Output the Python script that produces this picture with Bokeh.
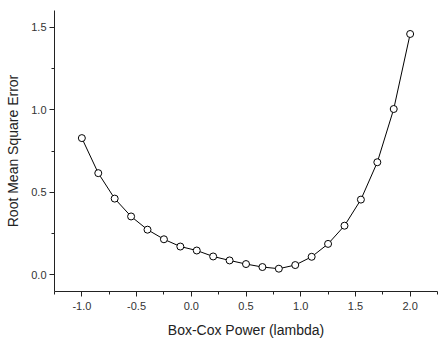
from bokeh.plotting import figure
from bokeh.models import SingleIntervalTicker, ColumnDataSource, Range1d, NumeralTickFormatter
from bokeh.embed import file_html
from bokeh.resources import INLINE

lam = [-1.0, -0.85, -0.7, -0.55, -0.4, -0.25, -0.1, 0.05, 0.2, 0.35, 0.5,
       0.65, 0.8, 0.95, 1.1, 1.25, 1.4, 1.55, 1.7, 1.85, 2.0]
rmse = [0.828, 0.616, 0.462, 0.354, 0.274, 0.216, 0.172, 0.148, 0.112, 0.088, 0.066,
        0.048, 0.038, 0.060, 0.110, 0.188, 0.298, 0.456, 0.682, 1.004, 1.458]

src = ColumnDataSource(dict(x=lam, y=rmse))

p = figure(width=439, height=340, output_backend="svg", toolbar_location=None,
           x_range=Range1d(-1.25, 2.25), y_range=Range1d(-0.1, 1.6),
           min_border_left=54, min_border_right=2, min_border_top=10, min_border_bottom=47)
p.outline_line_color = None
p.xgrid.visible = False
p.ygrid.visible = False
p.background_fill_color = "white"
p.border_fill_color = "white"

p.line("x", "y", source=src, line_color="black", line_width=1)
p.scatter("x", "y", source=src, size=7, fill_color="white", line_color="black", line_width=1)

for ax in (p.xaxis[0], p.yaxis[0]):
    ax.ticker = SingleIntervalTicker(interval=0.5, num_minor_ticks=2)
    ax.formatter = NumeralTickFormatter(format="0.0")
    ax.axis_line_color = "#222222"
    ax.major_tick_line_color = "#222222"
    ax.minor_tick_line_color = "#222222"
    ax.major_tick_out = 5
    ax.major_tick_in = 0
    ax.minor_tick_out = 3
    ax.minor_tick_in = 0
    ax.major_label_text_font = "Liberation Sans"
    ax.major_label_text_font_size = "11px"
    ax.major_label_text_color = "#333333"
    ax.axis_label_text_font = "Liberation Sans"
    ax.axis_label_text_font_size = "14px"
    ax.axis_label_text_font_style = "normal"
    ax.axis_label_text_color = "#222222"

p.xaxis.axis_label = "Box-Cox Power (lambda)"
p.yaxis.axis_label = "Root Mean Square Error"
p.xaxis.major_label_standoff = 5
p.xaxis.axis_label_standoff = 9
p.yaxis.major_label_standoff = 3
p.yaxis.axis_label_standoff = 7

open("out.html", "w").write(file_html(p, INLINE))
